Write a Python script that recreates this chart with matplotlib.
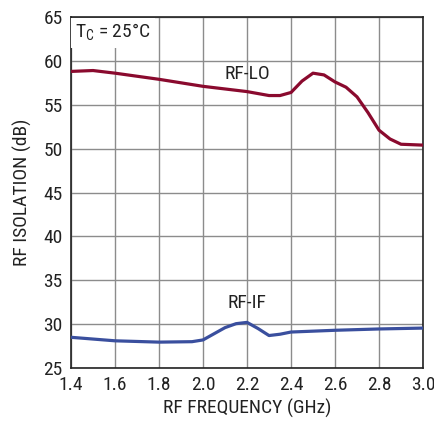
import matplotlib.pyplot as plt

# RF-LO isolation (dB) vs frequency (GHz)
lo_freq = [1.4, 1.5, 1.6, 1.8, 2.0, 2.2, 2.3, 2.35, 2.4, 2.45, 2.5, 2.55,
           2.6, 2.65, 2.7, 2.75, 2.8, 2.85, 2.9, 3.0]
lo_db = [58.8, 58.9, 58.6, 57.9, 57.1, 56.5, 56.05, 56.05, 56.4, 57.7, 58.6, 58.4,
         57.6, 57.0, 55.9, 54.1, 52.1, 51.1, 50.5, 50.4]

# RF-IF isolation
if_freq = [1.4, 1.6, 1.8, 1.95, 2.0, 2.05, 2.1, 2.15, 2.2, 2.25, 2.3, 2.35,
           2.4, 2.6, 2.8, 3.0]
if_db = [28.5, 28.1, 27.95, 28.0, 28.2, 28.9, 29.6, 30.05, 30.2, 29.5, 28.7, 28.85,
         29.1, 29.3, 29.45, 29.55]

x_ticks = [1.4, 1.6, 1.8, 2.0, 2.2, 2.4, 2.6, 2.8, 3.0]
y_ticks = [25, 30, 35, 40, 45, 50, 55, 60, 65]

plt.rcParams['font.family'] = ['Roboto Condensed', 'Liberation Sans', 'DejaVu Sans']
plt.rcParams['mathtext.fontset'] = 'custom'
plt.rcParams['mathtext.rm'] = 'Roboto Condensed'

fig = plt.figure(figsize=(4.34, 4.23), dpi=100)
ax = fig.add_axes([0.1636, 0.130, 0.8111, 0.8298])

ax.plot(lo_freq, lo_db, color='#8a0a2e', lw=2.3, solid_capstyle='butt', zorder=3)
ax.plot(if_freq, if_db, color='#3a4f9e', lw=2.3, solid_capstyle='butt', zorder=3)

ax.set_xlim(1.4, 3.0)
ax.set_ylim(25, 65)
ax.set_xticks(x_ticks)
ax.set_xticklabels([f"{t:.1f}" for t in x_ticks])
ax.set_yticks(y_ticks)
ax.grid(True, color='#8c8c8c', lw=1.0)
ax.tick_params(length=0, labelsize=14, colors='#222222')
ax.tick_params(axis='x', pad=6)
ax.tick_params(axis='y', pad=6)
for s in ax.spines.values():
    s.set_color('#222222')
    s.set_linewidth(1.2)

ax.set_xlabel('RF FREQUENCY (GHz)', fontsize=14, labelpad=3, color='#222222')
ax.set_ylabel('RF ISOLATION (dB)', fontsize=14, labelpad=8, color='#222222')

ax.text(1.42, 63.2, r'T$_\mathregular{C}$ = 25°C', fontsize=14, va='center', ha='left',
        color='#222222', bbox=dict(facecolor='white', edgecolor='none', pad=3), zorder=4)
ax.text(2.2, 58.5, 'RF-LO', fontsize=14, ha='center', va='center', color='#222222', zorder=4)
ax.text(2.2, 32.4, 'RF-IF', fontsize=14, ha='center', va='center', color='#222222', zorder=4)

fig.savefig('out.png', dpi=100)
